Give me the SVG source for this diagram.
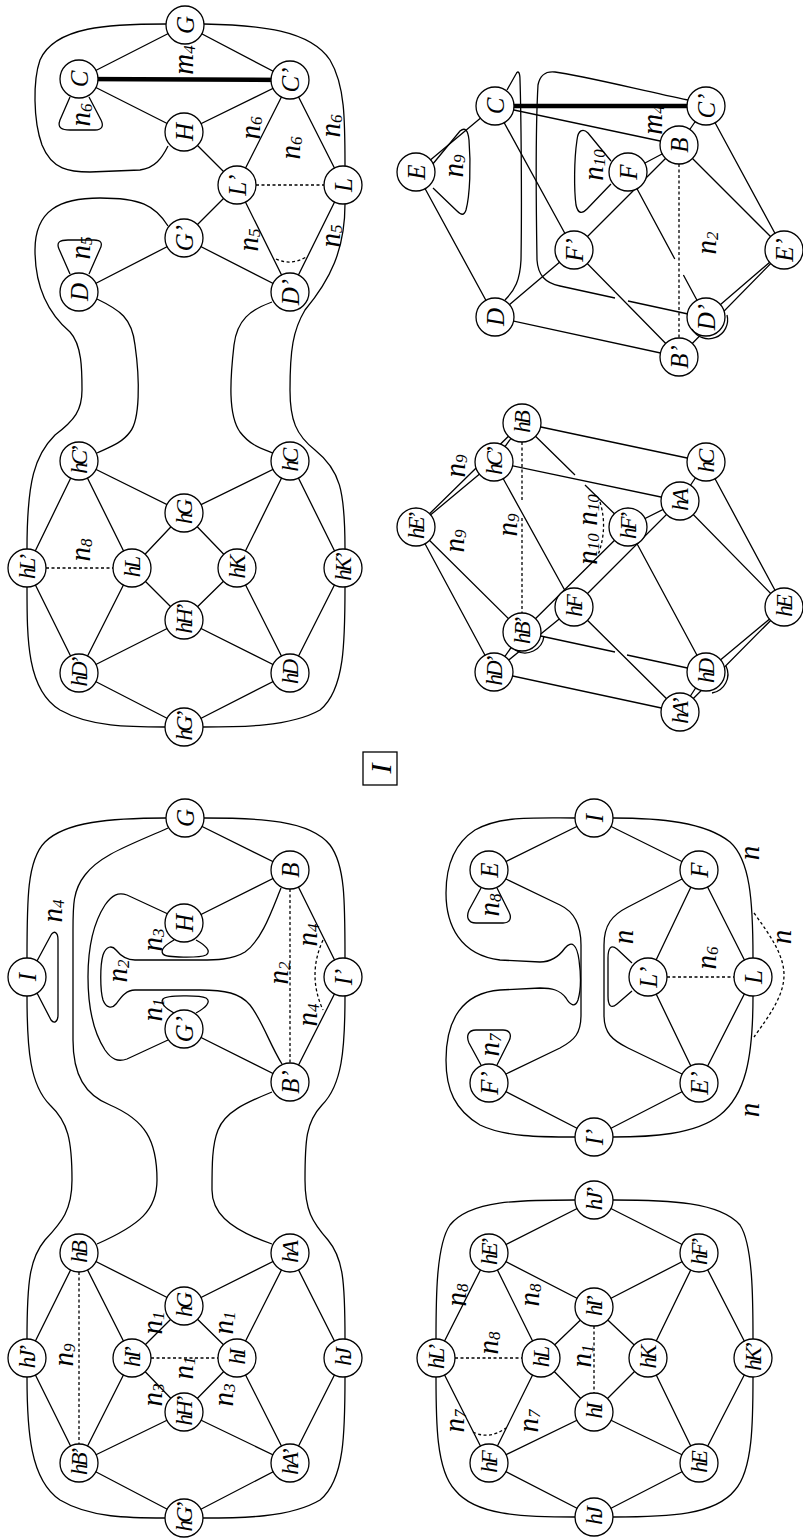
<svg xmlns="http://www.w3.org/2000/svg" width="803" height="1538" viewBox="0 0 803 1538">
<style>
.e{fill:none;stroke:#000;stroke-width:1.3}
.d{fill:none;stroke:#000;stroke-width:1.3;stroke-dasharray:3 2.5}
.k{fill:none;stroke:#000;stroke-width:4.5}
.c{fill:#fff;stroke:#000;stroke-width:1.3}
text{font-family:"Liberation Serif","DejaVu Serif",serif;font-style:italic;fill:#000}
.t{font-size:25px;text-anchor:middle;dominant-baseline:central}
.th{font-size:23px;letter-spacing:-3px}
.n{font-size:29px;text-anchor:middle;dominant-baseline:central}
.s{font-size:17px}
</style>
<rect width="803" height="1538" fill="#fff"/>
<g id="connectors">
<path class="e" d="M185,25L79,79M185,25L290,80M79,79L184,132M184,132L290,80M184,132L237,185M290,80L237,185M290,80L343,185M237,185L184,238M237,185L290,292M343,185L290,292M184,238L79,292M184,238L290,292"/>
<path class="k" d="M79,79L290,80"/>
<path class="d" d="M256,185L324,185M276,259Q291,266 306,257"/>
<path class="e" d="M166,24C110,24 55,26 40,60C33,80 33,120 42,145C52,170 70,172 90,172L140,170C155,168 162,158 168,146"/>
<path class="e" d="M204,24C260,25 310,30 330,60C345,85 345,120 345,166"/>
<path class="e" d="M345,204C345,250 330,280 305,310C293,330 290,350 290,390C290,420 296,435 315,450C340,470 345,490 345,549"/>
<path class="e" d="M272,302C250,310 237,320 234,345C230,380 228,415 240,432C250,445 260,448 273,453"/>
<path class="e" d="M97,299C120,310 132,318 135,345C140,380 140,420 130,432C122,443 110,447 97,453"/>
<path class="e" d="M168,226C155,205 140,198 100,198C60,198 35,210 35,250C35,290 50,315 70,332C82,345 82,370 82,390C82,410 75,420 55,435C35,455 27,480 27,549"/>
<path class="e" d="M70,97L60,120C57,128 62,130 70,130L95,130C102,130 104,126 101,120L89,97"/>
<path class="e" d="M70,274L59,249C56,242 60,240 68,240L94,240C101,240 103,243 100,249L89,274"/>
<path class="e" d="M79,461L27,568M79,461L132,568M79,461L184,513M290,461L184,513M290,461L237,568M290,461L343,568M184,513L132,568M184,513L237,568M132,568L184,620M237,568L184,620M27,568L79,673M132,568L79,673M184,620L79,673M184,620L290,673M237,568L290,673M343,568L290,673M79,673L184,727M290,673L184,727"/>
<path class="d" d="M46,568L113,568"/>
<path class="e" d="M27,587C27,640 27,690 60,710C90,727 130,727 165,727"/>
<path class="e" d="M203,727C240,727 290,727 320,710C345,690 345,640 345,587"/>
<path class="e" d="M185,818L290,870M184,923L290,870M290,870L343,977M290,1082L343,977M184,1029L290,1082"/>
<path class="d" d="M290,889L290,1063M323,940Q307,975 323,1010"/>
<path class="e" d="M27,958C27,900 27,860 45,842C65,822 110,818 166,818"/>
<path class="e" d="M204,818C260,818 310,820 330,845C345,865 345,900 345,958"/>
<path class="e" d="M27,996C27,1050 30,1085 50,1105C68,1122 72,1140 72,1180C72,1210 62,1222 45,1240C30,1258 27,1280 27,1339"/>
<path class="e" d="M345,996C345,1050 342,1085 322,1105C306,1122 305,1140 305,1180C305,1210 312,1222 328,1240C343,1258 345,1280 345,1339"/>
<path class="e" d="M168,828C130,845 100,855 85,875C73,890 73,905 73,930L73,1040C73,1075 85,1095 110,1105C145,1120 157,1140 157,1180C157,1210 140,1225 97,1244"/>
<path class="e" d="M272,1092C245,1103 225,1112 218,1130C212,1145 212,1165 212,1190C212,1210 225,1228 272,1244"/>
<path class="e" d="M168,914L127,895C118,892 112,895 105,905C92,925 88,950 88,977C88,1005 92,1030 105,1050C112,1060 118,1062 127,1059L168,1040"/>
<path class="e" d="M281,888C272,910 262,940 245,952C232,960 215,960 200,960L135,960C125,960 120,955 116,950C112,945 106,946 103,955C100,965 100,990 103,1000C106,1008 112,1009 116,1004C120,999 125,990 135,990L200,990C225,990 240,993 250,1005C262,1020 270,1045 282,1064"/>
<path class="e" d="M37,961L51,935C54,930 58,932 58,940L58,1015C58,1022 54,1024 51,1020L37,993"/>
<path class="e" d="M174,940C165,945 160,950 163,954C166,958 200,958 206,955C212,951 205,945 196,940"/>
<path class="e" d="M174,1013C165,1008 160,1003 163,999C166,995 200,995 206,998C212,1002 205,1008 196,1013"/>
<path class="e" d="M79,1253L27,1358M79,1253L132,1358M79,1253L184,1306M290,1253L184,1306M290,1253L237,1358M290,1253L343,1358M184,1306L132,1358M184,1306L237,1358M132,1358L184,1412M237,1358L184,1412M27,1358L79,1463M132,1358L79,1463M184,1412L79,1463M184,1412L290,1463M237,1358L290,1463M343,1358L290,1463M79,1463L184,1518M290,1463L184,1518"/>
<path class="d" d="M151,1358L218,1358M79,1272L79,1444"/>
<path class="e" d="M27,1377C27,1430 30,1480 60,1500C90,1518 130,1518 165,1518"/>
<path class="e" d="M203,1518C240,1518 290,1518 320,1500C345,1480 345,1430 345,1377"/>
<path class="e" d="M495,106L416,172M416,172L495,317M495,106L574,250M495,106L679,145M495,317L574,250M495,317L679,357M574,250L679,145M574,250L679,357M628,172L679,145M679,145L706,106M679,145L784,250M706,106L784,250M706,317L784,250M679,357L784,250M628,172L674.8,259M683.4,275L706,317"/>
<path class="k" d="M495,106L706,106"/>
<path class="d" d="M679,164L679,338"/>
<path class="e" d="M688,100C640,90 580,75 555,72C545,71 540,75 538,85C536,120 536,200 537,260C538,275 545,283 560,286L615,298M628,301L688,314"/>
<path class="e" d="M507,90L516,74C518,70 520,72 520,80C521,110 522,200 521,260C520,280 515,290 505,300"/>
<path class="e" d="M432,165L460,131C465,127 468,130 469,140C471,165 470,195 466,210C464,216 461,215 457,211L433,188"/>
<path class="e" d="M611,161L588,133C583,128 578,130 577,140C574,160 574,190 576,205C578,214 582,214 587,209L611,184"/>
<path class="e" d="M522,423L494,462M416,527L494,462M416,527L522,423M522,423L706,462M494,462L680,501M494,462L574,607M522,423L575,475M585,485L628,527M706,462L680,501M706,462L784,607M680,501L784,607M680,501L628,527M680,501L574,607M628,527L522,632M628,527L706,672M574,607L680,712M574,607L494,672M522,632L615,652M627,655L706,672M494,672L680,712M706,672L784,607M680,712L784,607M706,672L680,712M522,632L494,672M416,527L522,632M416,527L494,672"/>
<path class="d" d="M522,442L522,500M522,518L522,613M600,502Q608,528 598,555"/>
<path class="e" d="M594,818L489,870M594,818L699,870M699,870L648,977M699,870L753,977M648,977L699,1083M753,977L699,1083M489,1083L594,1137M699,1083L594,1137"/>
<path class="d" d="M667,977L734,977M754,913C770,935 784,955 784,975C784,995 770,1015 754,1037"/>
<path class="e" d="M506,879L560,905C575,912 581,925 581,945L581,1015C581,1033 575,1040 560,1048L506,1074"/>
<path class="e" d="M682,879L628,907C612,915 604,925 604,945L604,1015C604,1033 612,1040 628,1048L682,1074"/>
<path class="e" d="M575,818C530,818 500,816 475,830C452,845 446,870 446,893C446,925 460,955 500,960L540,962C552,962 560,955 565,948C572,940 577,945 579,960C581,975 581,990 578,1000C575,1008 570,1005 566,998C560,990 552,988 540,988L500,990C462,993 446,1020 446,1060C446,1090 455,1110 480,1125C505,1137 540,1137 575,1137"/>
<path class="e" d="M613,818C660,818 705,822 730,842C750,860 753,900 753,958"/>
<path class="e" d="M753,996C753,1060 745,1095 720,1115C695,1135 650,1137 613,1137"/>
<path class="e" d="M632,963L617,949C611,944 608,948 608,958L608,996C608,1006 611,1009 617,1004L632,991"/>
<path class="e" d="M481,888L469,910C466,917 468,923 476,923L503,923C510,923 512,918 509,912L497,888"/>
<path class="e" d="M481,1065L469,1043C466,1036 468,1030 476,1030L503,1030C510,1030 512,1035 509,1041L497,1065"/>
<path class="e" d="M594,1200L489,1253M594,1200L699,1253M489,1253L436,1358M489,1253L541,1358M489,1253L594,1307M699,1253L594,1307M699,1253L648,1358M699,1253L753,1358M594,1307L541,1358M594,1307L648,1358M541,1358L594,1412M648,1358L594,1412M436,1358L489,1463M541,1358L489,1463M594,1412L489,1463M594,1412L699,1463M648,1358L699,1463M753,1358L699,1463M489,1463L594,1517M699,1463L594,1517"/>
<path class="d" d="M594,1326L594,1393M455,1358L522,1358M473,1432Q489,1440 506,1428"/>
<path class="e" d="M575,1200C520,1200 470,1200 450,1225C436,1245 436,1300 436,1339"/>
<path class="e" d="M613,1200C670,1200 720,1202 740,1225C753,1245 753,1300 753,1339"/>
<path class="e" d="M436,1377C436,1420 436,1470 455,1490C475,1515 520,1517 575,1517"/>
<path class="e" d="M753,1377C753,1420 753,1470 735,1490C715,1515 670,1517 613,1517"/>
</g>
<g id="labels">
<g transform="translate(183 60) rotate(-90)"><text class="n">m<tspan class="s" dy="6">4</tspan></text></g>
<g transform="translate(250 128) rotate(-90)"><text class="n">n<tspan class="s" dy="6">6</tspan></text></g>
<g transform="translate(290 148) rotate(-90)"><text class="n">n<tspan class="s" dy="6">6</tspan></text></g>
<g transform="translate(330 126) rotate(-90)"><text class="n">n<tspan class="s" dy="6">6</tspan></text></g>
<g transform="translate(80 115) rotate(-90)"><text class="n">n<tspan class="s" dy="6">6</tspan></text></g>
<g transform="translate(80 248) rotate(-90)"><text class="n">n<tspan class="s" dy="6">5</tspan></text></g>
<g transform="translate(248 240) rotate(-90)"><text class="n">n<tspan class="s" dy="6">5</tspan></text></g>
<g transform="translate(330 236) rotate(-90)"><text class="n">n<tspan class="s" dy="6">5</tspan></text></g>
<g transform="translate(80 550) rotate(-90)"><text class="n">n<tspan class="s" dy="6">8</tspan></text></g>
<g transform="translate(52 911) rotate(-90)"><text class="n">n<tspan class="s" dy="6">4</tspan></text></g>
<g transform="translate(152 940) rotate(-90)"><text class="n">n<tspan class="s" dy="6">3</tspan></text></g>
<g transform="translate(117 971) rotate(-90)"><text class="n">n<tspan class="s" dy="6">2</tspan></text></g>
<g transform="translate(152 1010) rotate(-90)"><text class="n">n<tspan class="s" dy="6">1</tspan></text></g>
<g transform="translate(278 973) rotate(-90)"><text class="n">n<tspan class="s" dy="6">2</tspan></text></g>
<g transform="translate(307 935) rotate(-90)"><text class="n">n<tspan class="s" dy="6">4</tspan></text></g>
<g transform="translate(307 1015) rotate(-90)"><text class="n">n<tspan class="s" dy="6">4</tspan></text></g>
<g transform="translate(152 1323) rotate(-90)"><text class="n">n<tspan class="s" dy="6">1</tspan></text></g>
<g transform="translate(223 1323) rotate(-90)"><text class="n">n<tspan class="s" dy="6">1</tspan></text></g>
<g transform="translate(63 1355) rotate(-90)"><text class="n">n<tspan class="s" dy="6">9</tspan></text></g>
<g transform="translate(183 1368) rotate(-90)"><text class="n">n<tspan class="s" dy="6">1</tspan></text></g>
<g transform="translate(152 1395) rotate(-90)"><text class="n">n<tspan class="s" dy="6">3</tspan></text></g>
<g transform="translate(223 1395) rotate(-90)"><text class="n">n<tspan class="s" dy="6">3</tspan></text></g>
<g transform="translate(652 120) rotate(-90)"><text class="n">m<tspan class="s" dy="6">4</tspan></text></g>
<g transform="translate(453 166) rotate(-90)"><text class="n">n<tspan class="s" dy="6">9</tspan></text></g>
<g transform="translate(593 165) rotate(-90)"><text class="n">n<tspan class="s" dy="6">10</tspan></text></g>
<g transform="translate(706 243) rotate(-90)"><text class="n">n<tspan class="s" dy="6">2</tspan></text></g>
<g transform="translate(455 466) rotate(-90)"><text class="n">n<tspan class="s" dy="6">9</tspan></text></g>
<g transform="translate(454 541) rotate(-90)"><text class="n">n<tspan class="s" dy="6">9</tspan></text></g>
<g transform="translate(507 525) rotate(-90)"><text class="n">n<tspan class="s" dy="6">9</tspan></text></g>
<g transform="translate(587 510) rotate(-90)"><text class="n">n<tspan class="s" dy="6">10</tspan></text></g>
<g transform="translate(587 549) rotate(-90)"><text class="n">n<tspan class="s" dy="6">10</tspan></text></g>
<g transform="translate(749 853) rotate(-90)"><text class="n">n</text></g>
<g transform="translate(781 937) rotate(-90)"><text class="n">n</text></g>
<g transform="translate(749 1110) rotate(-90)"><text class="n">n</text></g>
<g transform="translate(623 937) rotate(-90)"><text class="n">n</text></g>
<g transform="translate(706 958) rotate(-90)"><text class="n">n<tspan class="s" dy="6">6</tspan></text></g>
<g transform="translate(489 905) rotate(-90)"><text class="n">n<tspan class="s" dy="6">8</tspan></text></g>
<g transform="translate(489 1045) rotate(-90)"><text class="n">n<tspan class="s" dy="6">7</tspan></text></g>
<g transform="translate(456 1295) rotate(-90)"><text class="n">n<tspan class="s" dy="6">8</tspan></text></g>
<g transform="translate(529 1295) rotate(-90)"><text class="n">n<tspan class="s" dy="6">8</tspan></text></g>
<g transform="translate(488 1343) rotate(-90)"><text class="n">n<tspan class="s" dy="6">8</tspan></text></g>
<g transform="translate(581 1356) rotate(-90)"><text class="n">n<tspan class="s" dy="6">1</tspan></text></g>
<g transform="translate(454 1421) rotate(-90)"><text class="n">n<tspan class="s" dy="6">7</tspan></text></g>
<g transform="translate(528 1421) rotate(-90)"><text class="n">n<tspan class="s" dy="6">7</tspan></text></g>
</g>
<g id="box-I"><rect x="363" y="752" width="34" height="33" fill="#fff" stroke="#000" stroke-width="1.3"/><g transform="translate(380 768.5) rotate(-90)"><text class="t" style="font-size:30px">I</text></g></g>
<g id="p1-G"><circle class="c" cx="185" cy="25" r="19"/><g transform="translate(185 25) rotate(-90)"><text class="t">G</text></g></g>
<g id="p1-C"><circle class="c" cx="79" cy="79" r="19"/><g transform="translate(79 79) rotate(-90)"><text class="t">C</text></g></g>
<g id="p1-Cp"><circle class="c" cx="290" cy="80" r="19"/><g transform="translate(290 80) rotate(-90)"><text class="t">C’</text></g></g>
<g id="p1-H"><circle class="c" cx="184" cy="132" r="19"/><g transform="translate(184 132) rotate(-90)"><text class="t">H</text></g></g>
<g id="p1-Lp"><circle class="c" cx="237" cy="185" r="19"/><g transform="translate(237 185) rotate(-90)"><text class="t">L’</text></g></g>
<g id="p1-L"><circle class="c" cx="343" cy="185" r="19"/><g transform="translate(343 185) rotate(-90)"><text class="t">L</text></g></g>
<g id="p1-Gp"><circle class="c" cx="184" cy="238" r="19"/><g transform="translate(184 238) rotate(-90)"><text class="t">G’</text></g></g>
<g id="p1-D"><circle class="c" cx="79" cy="292" r="19"/><g transform="translate(79 292) rotate(-90)"><text class="t">D</text></g></g>
<g id="p1-Dp"><circle class="c" cx="290" cy="292" r="19"/><g transform="translate(290 292) rotate(-90)"><text class="t">D’</text></g></g>
<g id="p1-hCp"><circle class="c" cx="79" cy="461" r="19"/><g transform="translate(79 461) rotate(-90)"><text class="t th">hC’</text></g></g>
<g id="p1-hC"><circle class="c" cx="290" cy="461" r="19"/><g transform="translate(290 461) rotate(-90)"><text class="t th">hC</text></g></g>
<g id="p1-hG"><circle class="c" cx="184" cy="513" r="19"/><g transform="translate(184 513) rotate(-90)"><text class="t th">hG</text></g></g>
<g id="p1-hLp"><circle class="c" cx="27" cy="568" r="19"/><g transform="translate(27 568) rotate(-90)"><text class="t th">hL’</text></g></g>
<g id="p1-hL"><circle class="c" cx="132" cy="568" r="19"/><g transform="translate(132 568) rotate(-90)"><text class="t th">hL</text></g></g>
<g id="p1-hK"><circle class="c" cx="237" cy="568" r="19"/><g transform="translate(237 568) rotate(-90)"><text class="t th">hK</text></g></g>
<g id="p1-hKp"><circle class="c" cx="343" cy="568" r="19"/><g transform="translate(343 568) rotate(-90)"><text class="t th">hK’</text></g></g>
<g id="p1-hHp"><circle class="c" cx="184" cy="620" r="19"/><g transform="translate(184 620) rotate(-90)"><text class="t th">hH’</text></g></g>
<g id="p1-hDp"><circle class="c" cx="79" cy="673" r="19"/><g transform="translate(79 673) rotate(-90)"><text class="t th">hD’</text></g></g>
<g id="p1-hD"><circle class="c" cx="290" cy="673" r="19"/><g transform="translate(290 673) rotate(-90)"><text class="t th">hD</text></g></g>
<g id="p1-hGp"><circle class="c" cx="184" cy="727" r="19"/><g transform="translate(184 727) rotate(-90)"><text class="t th">hG’</text></g></g>
<g id="p2-G"><circle class="c" cx="185" cy="818" r="19"/><g transform="translate(185 818) rotate(-90)"><text class="t">G</text></g></g>
<g id="p2-B"><circle class="c" cx="290" cy="870" r="19"/><g transform="translate(290 870) rotate(-90)"><text class="t">B</text></g></g>
<g id="p2-H"><circle class="c" cx="184" cy="923" r="19"/><g transform="translate(184 923) rotate(-90)"><text class="t">H</text></g></g>
<g id="p2-I"><circle class="c" cx="27" cy="977" r="19"/><g transform="translate(27 977) rotate(-90)"><text class="t">I</text></g></g>
<g id="p2-Ip"><circle class="c" cx="343" cy="977" r="19"/><g transform="translate(343 977) rotate(-90)"><text class="t">I’</text></g></g>
<g id="p2-Gp"><circle class="c" cx="184" cy="1029" r="19"/><g transform="translate(184 1029) rotate(-90)"><text class="t">G’</text></g></g>
<g id="p2-Bp"><circle class="c" cx="290" cy="1082" r="19"/><g transform="translate(290 1082) rotate(-90)"><text class="t">B’</text></g></g>
<g id="p2-hB"><circle class="c" cx="79" cy="1253" r="19"/><g transform="translate(79 1253) rotate(-90)"><text class="t th">hB</text></g></g>
<g id="p2-hA"><circle class="c" cx="290" cy="1253" r="19"/><g transform="translate(290 1253) rotate(-90)"><text class="t th">hA</text></g></g>
<g id="p2-hG"><circle class="c" cx="184" cy="1306" r="19"/><g transform="translate(184 1306) rotate(-90)"><text class="t th">hG</text></g></g>
<g id="p2-hJp"><circle class="c" cx="27" cy="1358" r="19"/><g transform="translate(27 1358) rotate(-90)"><text class="t th">hJ’</text></g></g>
<g id="p2-hIp"><circle class="c" cx="132" cy="1358" r="19"/><g transform="translate(132 1358) rotate(-90)"><text class="t th">hI’</text></g></g>
<g id="p2-hI"><circle class="c" cx="237" cy="1358" r="19"/><g transform="translate(237 1358) rotate(-90)"><text class="t th">hI</text></g></g>
<g id="p2-hJ"><circle class="c" cx="343" cy="1358" r="19"/><g transform="translate(343 1358) rotate(-90)"><text class="t th">hJ</text></g></g>
<g id="p2-hHp"><circle class="c" cx="184" cy="1412" r="19"/><g transform="translate(184 1412) rotate(-90)"><text class="t th">hH’</text></g></g>
<g id="p2-hBp"><circle class="c" cx="79" cy="1463" r="19"/><g transform="translate(79 1463) rotate(-90)"><text class="t th">hB’</text></g></g>
<g id="p2-hAp"><circle class="c" cx="290" cy="1463" r="19"/><g transform="translate(290 1463) rotate(-90)"><text class="t th">hA’</text></g></g>
<g id="p2-hGp"><circle class="c" cx="184" cy="1518" r="19"/><g transform="translate(184 1518) rotate(-90)"><text class="t th">hG’</text></g></g>
<g id="p3-C"><circle class="c" cx="495" cy="106" r="19"/><g transform="translate(495 106) rotate(-90)"><text class="t">C</text></g></g>
<g id="p3-Cp"><circle class="c" cx="706" cy="106" r="19"/><g transform="translate(706 106) rotate(-90)"><text class="t">C’</text></g></g>
<g id="p3-E"><circle class="c" cx="416" cy="172" r="19"/><g transform="translate(416 172) rotate(-90)"><text class="t">E</text></g></g>
<g id="p3-B"><circle class="c" cx="679" cy="145" r="19"/><g transform="translate(679 145) rotate(-90)"><text class="t">B</text></g></g>
<g id="p3-F"><circle class="c" cx="628" cy="172" r="19"/><g transform="translate(628 172) rotate(-90)"><text class="t">F</text></g></g>
<g id="p3-Fp"><circle class="c" cx="574" cy="250" r="19"/><g transform="translate(574 250) rotate(-90)"><text class="t">F’</text></g></g>
<g id="p3-Ep"><circle class="c" cx="784" cy="250" r="19"/><g transform="translate(784 250) rotate(-90)"><text class="t">E’</text></g></g>
<g id="p3-D"><circle class="c" cx="495" cy="317" r="19"/><g transform="translate(495 317) rotate(-90)"><text class="t">D</text></g></g>
<g id="p3-Dp"><circle class="c" cx="706" cy="317" r="19"/><path class="e" d="M692,329A19,19 0 0 0 727,315"/><g transform="translate(706 317) rotate(-90)"><text class="t">D’</text></g></g>
<g id="p3-Bp"><circle class="c" cx="679" cy="357" r="19"/><g transform="translate(679 357) rotate(-90)"><text class="t">B’</text></g></g>
<g id="p4-hB"><circle class="c" cx="522" cy="423" r="19"/><g transform="translate(522 423) rotate(-90)"><text class="t th">hB</text></g></g>
<g id="p4-hCp"><circle class="c" cx="494" cy="462" r="19"/><g transform="translate(494 462) rotate(-90)"><text class="t th">hC’</text></g></g>
<g id="p4-hEp"><circle class="c" cx="416" cy="527" r="19"/><g transform="translate(416 527) rotate(-90)"><text class="t th">hE’</text></g></g>
<g id="p4-hC"><circle class="c" cx="706" cy="462" r="19"/><g transform="translate(706 462) rotate(-90)"><text class="t th">hC</text></g></g>
<g id="p4-hA"><circle class="c" cx="680" cy="501" r="19"/><g transform="translate(680 501) rotate(-90)"><text class="t th">hA</text></g></g>
<g id="p4-hFp"><circle class="c" cx="628" cy="527" r="19"/><g transform="translate(628 527) rotate(-90)"><text class="t th">hF’</text></g></g>
<g id="p4-hF"><circle class="c" cx="574" cy="607" r="19"/><g transform="translate(574 607) rotate(-90)"><text class="t th">hF</text></g></g>
<g id="p4-hE"><circle class="c" cx="784" cy="607" r="19"/><g transform="translate(784 607) rotate(-90)"><text class="t th">hE</text></g></g>
<g id="p4-hBp"><circle class="c" cx="522" cy="632" r="19"/><path class="e" d="M515,650A19,19 0 0 0 544,636"/><g transform="translate(522 632) rotate(-90)"><text class="t th">hB’</text></g></g>
<g id="p4-hDp"><circle class="c" cx="494" cy="672" r="19"/><g transform="translate(494 672) rotate(-90)"><text class="t th">hD’</text></g></g>
<g id="p4-hD"><circle class="c" cx="706" cy="672" r="19"/><path class="e" d="M726,666A19,19 0 0 1 712,693"/><g transform="translate(706 672) rotate(-90)"><text class="t th">hD</text></g></g>
<g id="p4-hAp"><circle class="c" cx="680" cy="712" r="19"/><g transform="translate(680 712) rotate(-90)"><text class="t th">hA’</text></g></g>
<g id="p5-I"><circle class="c" cx="594" cy="818" r="19"/><g transform="translate(594 818) rotate(-90)"><text class="t">I</text></g></g>
<g id="p5-E"><circle class="c" cx="489" cy="870" r="19"/><g transform="translate(489 870) rotate(-90)"><text class="t">E</text></g></g>
<g id="p5-F"><circle class="c" cx="699" cy="870" r="19"/><g transform="translate(699 870) rotate(-90)"><text class="t">F</text></g></g>
<g id="p5-Lp"><circle class="c" cx="648" cy="977" r="19"/><g transform="translate(648 977) rotate(-90)"><text class="t">L’</text></g></g>
<g id="p5-L"><circle class="c" cx="753" cy="977" r="19"/><g transform="translate(753 977) rotate(-90)"><text class="t">L</text></g></g>
<g id="p5-Fp"><circle class="c" cx="489" cy="1083" r="19"/><g transform="translate(489 1083) rotate(-90)"><text class="t">F’</text></g></g>
<g id="p5-Ep"><circle class="c" cx="699" cy="1083" r="19"/><g transform="translate(699 1083) rotate(-90)"><text class="t">E’</text></g></g>
<g id="p5-Ip"><circle class="c" cx="594" cy="1137" r="19"/><g transform="translate(594 1137) rotate(-90)"><text class="t">I’</text></g></g>
<g id="p5-hJp"><circle class="c" cx="594" cy="1200" r="19"/><g transform="translate(594 1200) rotate(-90)"><text class="t th">hJ’</text></g></g>
<g id="p5-hEp"><circle class="c" cx="489" cy="1253" r="19"/><g transform="translate(489 1253) rotate(-90)"><text class="t th">hE’</text></g></g>
<g id="p5-hFp"><circle class="c" cx="699" cy="1253" r="19"/><g transform="translate(699 1253) rotate(-90)"><text class="t th">hF’</text></g></g>
<g id="p5-hIp"><circle class="c" cx="594" cy="1307" r="19"/><g transform="translate(594 1307) rotate(-90)"><text class="t th">hI’</text></g></g>
<g id="p5-hLp"><circle class="c" cx="436" cy="1358" r="19"/><g transform="translate(436 1358) rotate(-90)"><text class="t th">hL’</text></g></g>
<g id="p5-hL"><circle class="c" cx="541" cy="1358" r="19"/><g transform="translate(541 1358) rotate(-90)"><text class="t th">hL</text></g></g>
<g id="p5-hK"><circle class="c" cx="648" cy="1358" r="19"/><g transform="translate(648 1358) rotate(-90)"><text class="t th">hK</text></g></g>
<g id="p5-hKp"><circle class="c" cx="753" cy="1358" r="19"/><g transform="translate(753 1358) rotate(-90)"><text class="t th">hK’</text></g></g>
<g id="p5-hI"><circle class="c" cx="594" cy="1412" r="19"/><g transform="translate(594 1412) rotate(-90)"><text class="t th">hI</text></g></g>
<g id="p5-hF"><circle class="c" cx="489" cy="1463" r="19"/><g transform="translate(489 1463) rotate(-90)"><text class="t th">hF</text></g></g>
<g id="p5-hE"><circle class="c" cx="699" cy="1463" r="19"/><g transform="translate(699 1463) rotate(-90)"><text class="t th">hE</text></g></g>
<g id="p5-hJ"><circle class="c" cx="594" cy="1517" r="19"/><g transform="translate(594 1517) rotate(-90)"><text class="t th">hJ</text></g></g>
</svg>
